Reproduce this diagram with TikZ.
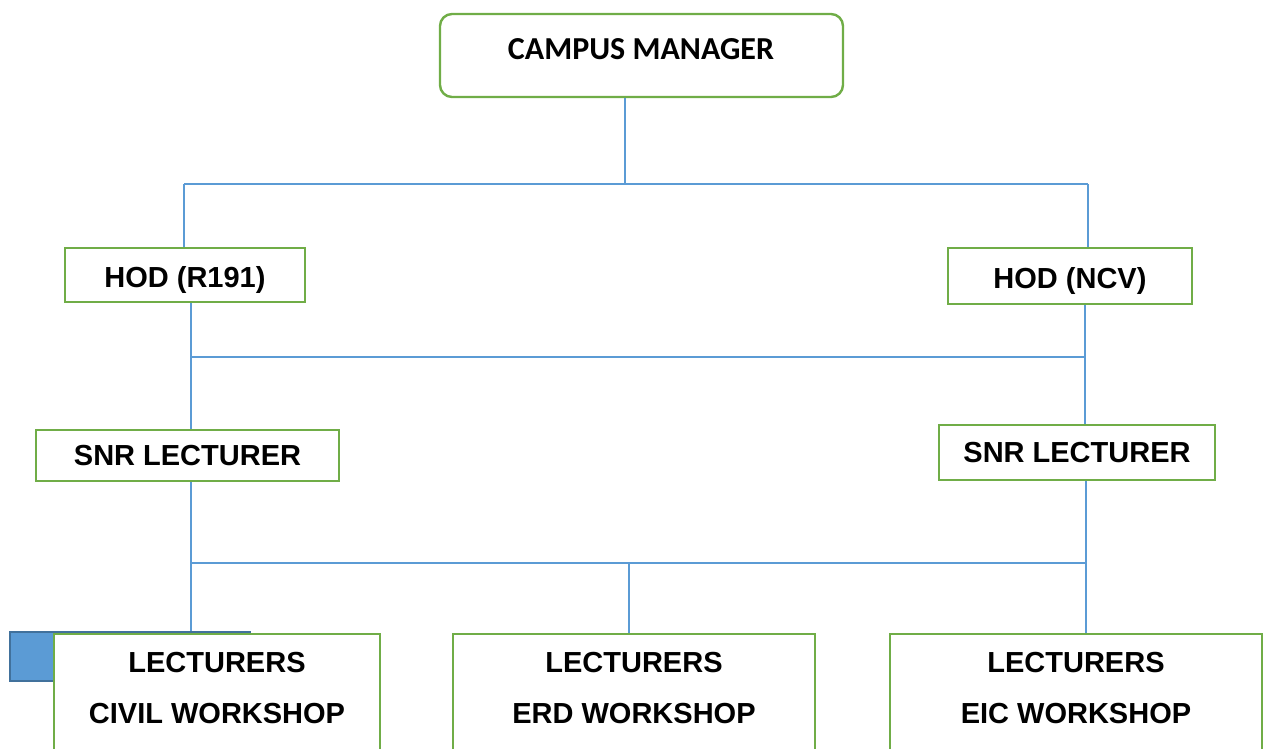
\documentclass[tikz,border=0pt]{standalone}
\usepackage{fontspec}
\setmainfont{Liberation Sans}
\newfontfamily\carlito{Carlito}
\definecolor{verde}{HTML}{70AD47}
\definecolor{azul}{HTML}{5B9BD5}
\definecolor{azuloscuro}{HTML}{41719C}
\tikzset{
  caja/.style={draw=verde, line width=1.2pt, fill=white, inner sep=0pt},
  texto/.style={font=\fontsize{14.5}{25.5}\selectfont\bfseries, align=center},
  linea/.style={draw=azul, line width=0.6pt}
}
\begin{document}
\begin{tikzpicture}[x=0.5pt, y=-0.5pt]
        \useasboundingbox (0,0) rectangle (1264,749);

        % Director del campus
        \node[caja, rounded corners=6pt, minimum width=201.5pt, minimum height=41.5pt] (cm) at (641.5,55.5) {};
        \node[font=\carlito\fontsize{16}{19}\selectfont\bfseries] (cmtexto) at (641,49) {CAMPUS MANAGER};

        % Jefes de departamento
        \node[caja, texto, text height=12.5pt, text depth=0pt, minimum width=120pt, minimum height=27pt] (hodl) at (185,275) {HOD (R191)};
        \node[caja, texto, text height=12.5pt, text depth=0pt, minimum width=122pt, minimum height=28pt] (hodr) at (1070,276) {HOD (NCV)};

        % Profesores titulares
        \node[caja, texto, minimum width=151.5pt, minimum height=25.5pt] (snrl) at (187.5,455.5) {SNR LECTURER};
        \node[caja, texto, minimum width=138pt, minimum height=27.5pt] (snrr) at (1077,452.5) {SNR LECTURER};

        % Bloque azul
        \node[draw=azuloscuro, fill=azul, line width=1pt, minimum width=120pt, minimum height=24.5pt, inner sep=0pt] (bloque) at (130,656.5) {};

        % Profesores de taller
        \foreach \n/\x/\w/\t in {1/217/163/CIVIL, 2/634/181/ERD, 3/1076/186/EIC} {
            \node[caja, minimum width=\w pt, minimum height=68pt] (lec\n) at (\x,702) {};
            \node[texto] (lect\n) at (\x,688.5) {LECTURERS\\\t\ WORKSHOP};
        }

        % Conexiones: primer nivel
        \coordinate (n1) at (625,184);
        \coordinate (n1l) at (184,184);
        \coordinate (n1r) at (1088,184);
        \draw[linea] (cm.south -| n1) -- (n1);
        \draw[linea] (n1l) -- (n1r);
        \draw[linea] (n1l) -- (n1l |- hodl.north);
        \draw[linea] (n1r) -- (n1r |- hodr.north);

        % Conexiones: segundo nivel
        \coordinate (n2l) at (191,357);
        \coordinate (n2r) at (1085,357);
        \draw[linea] (n2l) -- (n2r);
        \draw[linea] (hodl.south -| n2l) -- (n2l) -- (snrl.north -| n2l);
        \draw[linea] (hodr.south -| n2r) -- (n2r) -- (snrr.north -| n2r);

        % Conexiones: tercer nivel
        \coordinate (n3l) at (191,563);
        \coordinate (n3m) at (629,563);
        \coordinate (n3r) at (1086,563);
        \draw[linea] (n3l) -- (n3r);
        \draw[linea] (snrl.south -| n3l) -- (n3l) -- (n3l |- bloque.north);
        \draw[linea] (n3m) -- (n3m |- lec2.north);
        \draw[linea] (snrr.south -| n3r) -- (n3r) -- (n3r |- lec3.north);
    \end{tikzpicture}
\end{document}
